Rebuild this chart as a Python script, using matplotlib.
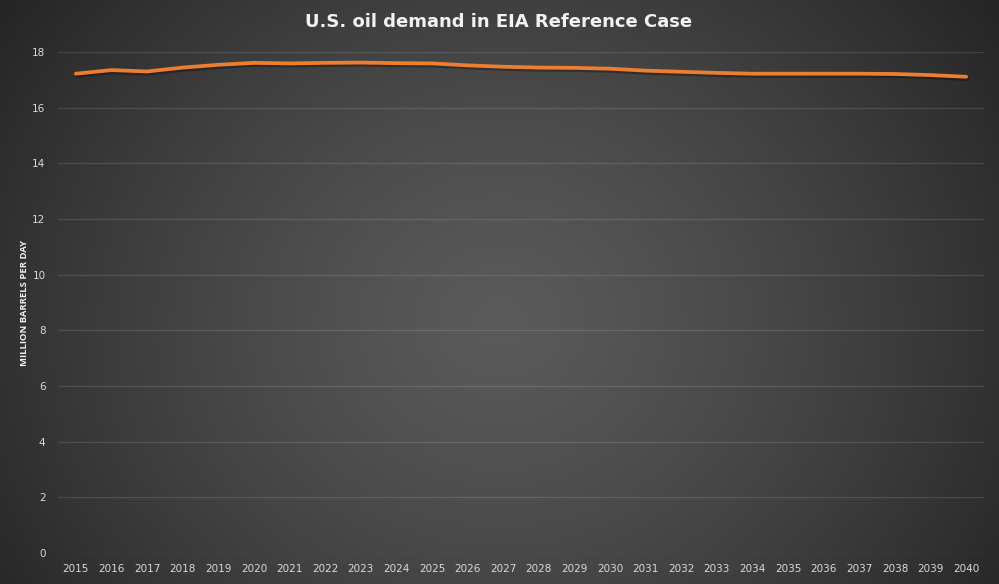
import numpy as np
import matplotlib
matplotlib.use("Agg")
import matplotlib.pyplot as plt
import matplotlib.patheffects as pe

years = [str(y) for y in range(2015, 2041)]
demand = [17.22, 17.35, 17.30, 17.44, 17.54, 17.61, 17.59, 17.61, 17.62, 17.60,
          17.59, 17.52, 17.47, 17.44, 17.43, 17.40, 17.33, 17.29, 17.25, 17.22,
          17.22, 17.22, 17.22, 17.21, 17.17, 17.11]
yticks = [0, 2, 4, 6, 8, 10, 12, 14, 16, 18]
title = "U.S. oil demand in EIA Reference Case"
ylabel = "MILLION BARRELS PER DAY"

W, H = 999, 584
fig = plt.figure(figsize=(W / 100, H / 100), dpi=100)

# radial gradient background
bg = fig.add_axes([0, 0, 1, 1], zorder=0)
yy, xx = np.mgrid[0:H, 0:W]
cx, cy = W * 0.5, H * 0.55
r = np.sqrt(((xx - cx) / (W * 0.62)) ** 2 + ((yy - cy) / (H * 0.95)) ** 2)
r = np.clip(r, 0, 1)
c_in, c_out = 0x5a / 255, 0x24 / 255
val = c_in + (c_out - c_in) * r ** 1.3
img = np.dstack([val, val, val])
bg.imshow(img, aspect="auto", extent=[0, 1, 0, 1], origin="upper")
bg.axis("off")

ax = fig.add_axes([58 / W, (H - 553) / H, (984 - 58) / W, (553 - 52) / H], zorder=1)
ax.patch.set_alpha(0)
x = np.arange(len(years))
ax.plot(x, demand, color="#ED7D31", lw=2.7, solid_capstyle="round",
        solid_joinstyle="round",
        path_effects=[pe.SimpleLineShadow(offset=(0.8, -1.6), shadow_color="black", alpha=0.3),
                      pe.Normal()])
ax.set_xlim(-0.5, len(years) - 0.5)
ax.set_ylim(0, 18)
ax.set_yticks(yticks)
ax.set_yticklabels([str(v) for v in yticks])
ax.set_xticks(x)
ax.set_xticklabels(years)
ax.grid(axis="y", color="white", alpha=0.12, lw=0.9)
ax.set_axisbelow(True)
for s in ax.spines.values():
    s.set_visible(False)
ax.tick_params(axis="both", length=0, colors="#d9d9d9", labelsize=7.5)
ax.tick_params(axis="y", pad=9)
ax.tick_params(axis="x", pad=8)

fig.text(499 / W, 1 - 22 / H, title, ha="center", va="center", color="#f2f2f2",
         fontsize=13, fontweight="bold", family="DejaVu Sans")
fig.text(25 / W, 1 - 303 / H, ylabel, ha="center", va="center", rotation=90,
         color="#f2f2f2", fontsize=6.8, fontweight="bold", family="Open Sans")

fig.savefig("out.png", dpi=100)
